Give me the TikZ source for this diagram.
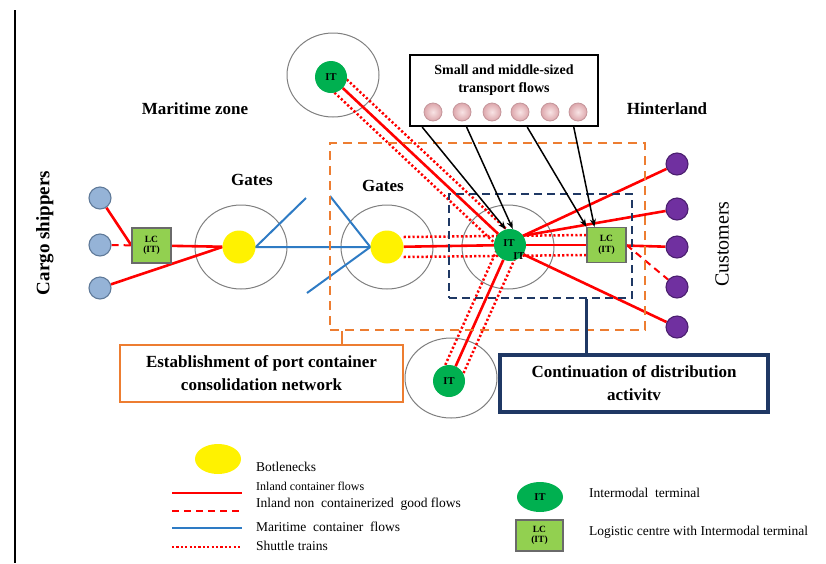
\documentclass[tikz,border=0pt]{standalone}
\usepackage{fontspec}
\setmainfont{Liberation Serif}
\usetikzlibrary{shapes.geometric,calc,arrows.meta}
\pgfdeclarelayer{rings}
\pgfdeclarelayer{lines}
\pgfsetlayers{rings,lines,main}
\definecolor{flowred}{HTML}{FF0000}
\definecolor{seablue}{HTML}{2E7BC4}
\definecolor{zoneorange}{HTML}{ED7D31}
\definecolor{navyc}{HTML}{1F3864}
\definecolor{itgreen}{HTML}{00B050}
\definecolor{lcgreen}{HTML}{92D050}
\definecolor{lcborder}{HTML}{6A6A6A}
\definecolor{shipblue}{HTML}{95B3D7}
\definecolor{shipborder}{HTML}{5F7A99}
\definecolor{custpurple}{HTML}{7030A0}
\definecolor{custborder}{HTML}{4B1F6F}
\definecolor{pinkin}{HTML}{F8E4E5}
\definecolor{pinkout}{HTML}{DDA7AC}
\definecolor{pinkborder}{HTML}{C4959A}
\definecolor{ringgray}{HTML}{7F7F7F}
\begin{document}
\begin{tikzpicture}[x=1pt,y=-1pt,
  ring/.style={draw=ringgray, line width=1pt, ellipse, minimum width=92pt, minimum height=84pt, inner sep=0pt},
  bneck/.style={circle, fill=yellow, minimum size=33pt, inner sep=0pt},
  itnode/.style={circle, fill=itgreen, minimum size=32pt, inner sep=0pt, font=\bfseries\fontsize{10.5}{11}\selectfont},
  lcbox/.style={rectangle, fill=lcgreen, draw=lcborder, line width=1.1pt, minimum width=39pt, minimum height=35pt, inner sep=0pt, align=center, font=\bfseries\fontsize{9.5}{10.5}\selectfont},
  shipper/.style={circle, fill=shipblue, draw=shipborder, line width=1.1pt, minimum size=22pt, inner sep=0pt},
  cust/.style={circle, fill=custpurple, draw=custborder, line width=1.1pt, minimum size=22pt, inner sep=0pt},
  pinkball/.style={circle, minimum size=18pt, inner sep=0pt, shading=radial, inner color=pinkin, outer color=pinkout, draw=pinkborder, line width=0.8pt},
  inland/.style={draw=flowred, line width=2.6pt},
  inlanddash/.style={draw=flowred, line width=2pt, dash pattern=on 7pt off 5pt},
  maritime/.style={draw=seablue, line width=2pt},
  shuttle/.style={draw=flowred, line width=2.5pt, dash pattern=on 2.2pt off 2.2pt},
  flowarrow/.style={draw=black, line width=1.5pt, -{Stealth[length=8pt,width=6pt]}},
  zonetitle/.style={font=\bfseries\fontsize{17}{20}\selectfont, inner sep=0pt},
  legtext/.style={anchor=west, font=\fontsize{13.5}{15}\selectfont, inner sep=0pt},
  boxtext/.style={align=center, fill=white, inner sep=0pt, font=\bfseries\fontsize{17}{23}\selectfont}
]
\useasboundingbox (0,0) rectangle (826,563);

% left rule
\coordinate (vl1) at (15,10);
\coordinate (vl2) at (15,563);
\draw[line width=1.2pt] (vl1) -- (vl2);

% rings
\begin{pgfonlayer}{rings}
\node[ring] (r1) at (241,247) {};
\node[ring] (r2) at (387,247) {};
\node[ring] (r3) at (508,247) {};
\node[ring] (r4) at (333,75) {};
\node[ring, minimum height=80pt] (r5) at (451,378) {};
\end{pgfonlayer}

% zone rectangles
\node[draw=zoneorange, line width=2.4pt, dash pattern=on 9pt off 6pt, minimum width=315pt, minimum height=187pt, inner sep=0pt] (ozone) at (487.5,236.5) {};
\node[draw=navyc, line width=2.4pt, dash pattern=on 8pt off 5pt, minimum width=183pt, minimum height=104pt, inner sep=0pt] (nzone) at (540.5,246) {};

% texts
\node[zonetitle] (mz) at (195,109) {Maritime zone};
\node[zonetitle] (g1) at (252,180) {Gates};
\node[zonetitle] (g2) at (383,186) {Gates};
\node[zonetitle] (hl) at (667,109) {Hinterland};
\node[rotate=90, font=\bfseries\fontsize{19}{20}\selectfont, inner sep=0pt] (cs) at (45,233) {Cargo shippers};
\node[rotate=90, font=\fontsize{20}{22}\selectfont, inner sep=0pt] (cu) at (722,244) {Customers};

% main nodes
\node[shipper] (s1) at (100,198) {};
\node[shipper] (s2) at (100,245) {};
\node[shipper] (s3) at (100,288) {};
\node[lcbox] (lc1) at (151.5,245.5) {LC\\(IT)};
\node[bneck] (y1) at (239,247) {};
\node[bneck] (y2) at (387,247) {};
\node[itnode] (tIT) at (331,77) {IT};
\node[itnode] (bIT) at (449,381) {IT};
\node[itnode] (cIT) at (510,245) {};
\node[font=\bfseries\fontsize{10.5}{11}\selectfont, inner sep=0pt] (cITa) at (509,243) {IT};
\node[font=\bfseries\fontsize{10.5}{11}\selectfont, inner sep=0pt] (cITb) at (519,256) {IT};
\node[lcbox] (lc2) at (606.5,245) {LC\\(IT)};
\node[cust] (c1) at (677,164) {};
\node[cust] (c2) at (677,209) {};
\node[cust] (c3) at (677,247) {};
\node[cust] (c4) at (677,287) {};
\node[cust] (c5) at (677,327) {};

% small flows box
\node[draw=black, line width=2pt, minimum width=188pt, minimum height=71pt, inner sep=0pt] (sbox) at (504,90.5) {};
\node[align=center, inner sep=0pt, font=\bfseries\fontsize{14}{18}\selectfont] (stext) at (504,80) {Small and middle-sized\\transport flows};
\foreach \i/\x in {1/433,2/462,3/492,4/520,5/550,6/578}
  \node[pinkball] (p\i) at (\x,112) {};

% lines
\begin{pgfonlayer}{lines}
\draw[inland] (s1) -- (lc1.west);
\draw[inlanddash] (s2) -- (lc1);
\draw[inland] (s3) -- (y1.west);
\draw[inland] (lc1) -- (y1);
\coordinate (m1) at (306,198);
\coordinate (m2) at (330,196);
\coordinate (m3) at (307,293);
\draw[maritime] (m1) -- (y1.east) -- (y2.west);
\draw[maritime] (m2) -- (y2.west) -- (m3);
\draw[inland] (y2) -- (cIT);
\draw[inland] (cIT) -- (lc2);
\draw[shuttle] ([yshift=10pt]y2.east) -- ([yshift=10pt]lc2.west);
\draw[shuttle] ([yshift=-10pt]y2.east) -- ([yshift=-10pt]lc2.west);
\draw[inland] (tIT) -- (cIT);
\draw[shuttle] ($(tIT)!9pt!90:(cIT)$) -- ($(cIT)!9pt!-90:(tIT)$);
\draw[shuttle] ($(tIT)!9pt!-90:(cIT)$) -- ($(cIT)!9pt!90:(tIT)$);
\draw[inland] (bIT) -- (cIT);
\draw[shuttle] ($(bIT)!10pt!90:(cIT)$) -- ($(cIT)!10pt!-90:(bIT)$);
\draw[shuttle] ($(bIT)!10pt!-90:(cIT)$) -- ($(cIT)!10pt!90:(bIT)$);
\draw[inland] (cIT.35) -- (c1);
\draw[inland] (cIT.35) -- (c2);
\draw[inland] (lc2) -- (c3);
\draw[inlanddash] (lc2.east) -- (c4);
\draw[inland] (cIT.-35) -- (c5);
\end{pgfonlayer}

% arrows from the small flows box
\coordinate (a1) at ($(sbox.south west)!0.069!(sbox.south east)$);
\coordinate (a2) at ($(sbox.south west)!0.303!(sbox.south east)$);
\coordinate (a3) at ($(sbox.south west)!0.622!(sbox.south east)$);
\coordinate (a4) at ($(sbox.south west)!0.867!(sbox.south east)$);
\draw[flowarrow] (a1) -- (cIT.105);
\draw[flowarrow] (a2) -- (cIT.80);
\draw[flowarrow] (a3) -- (lc2.north west);
\draw[flowarrow] (a4) -- ($(lc2.north west)!0.2!(lc2.north east)$);

% explanation boxes
\node[boxtext, draw=zoneorange, line width=2.4pt, minimum width=283pt, minimum height=57pt] (obox) at (261.5,373.5) {Establishment of port container\\consolidation network};
\node[boxtext, draw=navyc, line width=3.2pt, minimum width=268pt, minimum height=57pt] (nbox) at (634,383.5) {Continuation of distribution\\activitv};
\coordinate (ot) at ($(obox.north west)!0.781!(obox.north east)$);
\draw[zoneorange, line width=2.4pt] (ot) -- (ot |- ozone.south);
\coordinate (nt) at ($(nbox.north west)!0.325!(nbox.north east)$);
\draw[navyc, line width=2.8pt] (nt) -- (nt |- nzone.south);

% legend
\node[ellipse, fill=yellow, minimum width=46pt, minimum height=30pt, inner sep=0pt] (lgy) at (218,459) {};
\node[legtext] (lt1) at (256,467) {Botlenecks};
\node[legtext, font=\fontsize{12}{13}\selectfont] (lt2) at (256,486) {Inland container flows};
\node[legtext] (lt3) at (256,504) {Inland non\ \ containerized\ \ good flows};
\node[legtext] (lt4) at (256,527) {Maritime\ \ container\ \ flows};
\node[legtext] (lt5) at (256,546) {Shuttle trains};
\coordinate (l1a) at (172,493); \coordinate (l1b) at (242,493);
\coordinate (l2a) at (172,511); \coordinate (l2b) at (242,511);
\coordinate (l3a) at (172,528); \coordinate (l3b) at (242,528);
\coordinate (l4a) at (172,547); \coordinate (l4b) at (242,547);
\draw[inland] (l1a) -- (l1b);
\draw[inlanddash] (l2a) -- (l2b);
\draw[maritime] (l3a) -- (l3b);
\draw[shuttle] (l4a) -- (l4b);
\node[ellipse, fill=itgreen, minimum width=46pt, minimum height=30pt, inner sep=0pt, font=\bfseries\fontsize{10.5}{11}\selectfont] (lgit) at (540,497) {IT};
\node[legtext] (lt6) at (589,493) {Intermodal\ \ terminal};
\node[lcbox, minimum width=47pt, minimum height=31pt] (lglc) at (539.5,535.5) {LC\\(IT)};
\node[legtext] (lt7) at (589,532) {Logistic centre with Intermodal terminal};
\end{tikzpicture}
\end{document}
